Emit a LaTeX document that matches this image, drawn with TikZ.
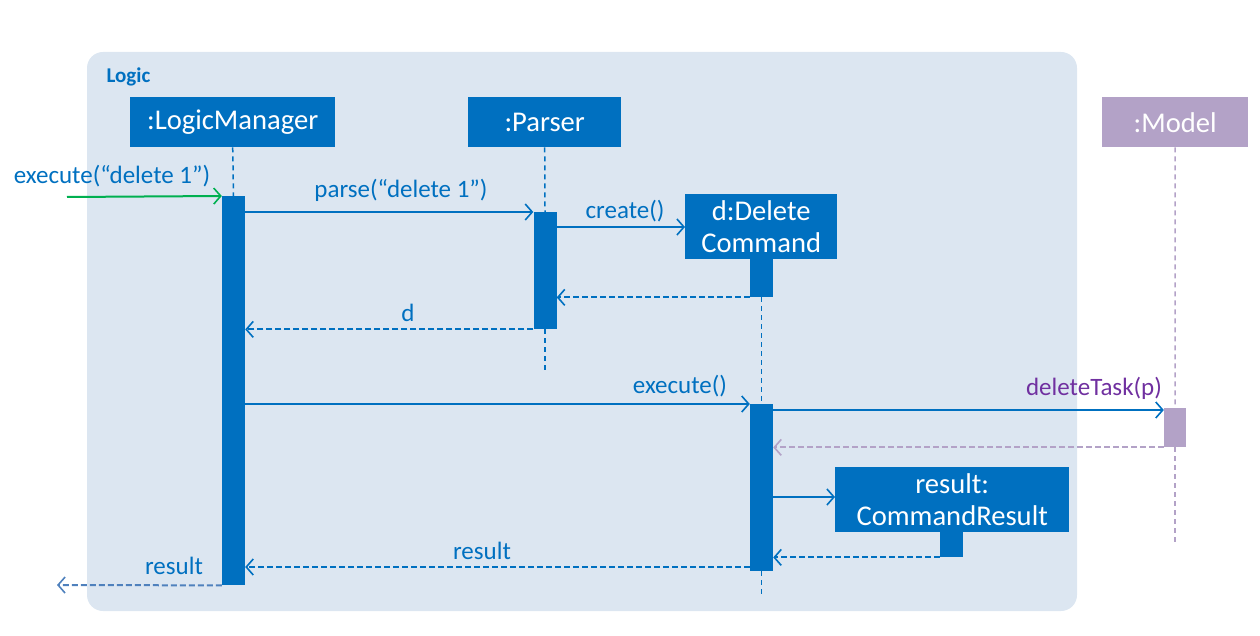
\documentclass[tikz,border=0pt]{standalone}
\usepackage{fontspec}
\setmainfont{Carlito}
\usepackage{tikz}
\usetikzlibrary{arrows.meta}
\definecolor{blu}{HTML}{0070C0}
\definecolor{framebg}{HTML}{DCE6F1}
\definecolor{mauve}{HTML}{B3A2C7}
\definecolor{purp}{HTML}{7030A0}
\definecolor{grn}{HTML}{00B050}
\definecolor{steel}{HTML}{4F81BD}
\tikzset{
  obj/.style={fill=blu, text=white, font=\fontsize{28.6}{32}\selectfont, inner sep=0pt, align=center, anchor=north west},
  act/.style={fill=blu, inner sep=0pt, minimum width=23pt, anchor=north},
  life/.style={draw=blu, line width=1.5pt, dash pattern=on 5pt off 4pt},
  msg/.style={draw=blu, line width=2pt, -{Straight Barb[length=7pt,width=16pt,line width=1.6pt]}},
  ret/.style={msg, dash pattern=on 6pt off 3pt},
  lab/.style={text=blu, font=\fontsize{25}{29}\selectfont}
}
\begin{document}
\begin{tikzpicture}[x=1pt,y=-1pt]
  \useasboundingbox (0,0) rectangle (1260,636);
  % frame
  \fill[framebg, rounded corners=16pt] (87,52) rectangle (1077,611);
  \node[anchor=west, text=blu, font=\fontsize{21}{24}\selectfont\bfseries] (logic) at (103,77) {Logic};

  % objects
  \node[obj, minimum width=205pt, minimum height=50pt] (lm) at (130,97) {:LogicManager};
  \node[obj, minimum width=153pt, minimum height=50pt] (pa) at (468,97) {:Parser};
  \node[obj, minimum width=146pt, minimum height=50pt, fill=mauve] (mo) at (1102,97) {:Model};
  \node[obj, minimum width=152pt, minimum height=65pt] (dc) at (685,194) {d:Delete\\Command};
  \node[obj, minimum width=234pt, minimum height=65pt] (cr) at (835,467) {result:\\CommandResult};

  % activations
  \node[act, minimum height=389pt] (lmA) at (233.5,196) {};
  \node[act, minimum height=117pt] (paA) at (545,212) {};
  \node[act, minimum height=38pt] (dcA0) at (761.5,259) {};
  \node[act, minimum height=167pt] (dcA) at (761.5,404) {};
  \node[act, minimum height=39pt, minimum width=22pt, fill=mauve] (moA) at (1175,408) {};
  \node[act, minimum height=25pt] (crA) at (951.5,532) {};

  % lifelines
  \coordinate (paEnd) at (545,370);
  \coordinate (dcEnd) at (761.5,595);
  \coordinate (moEnd) at (1175,543);
  \draw[life] (lm.south) -- (lmA.north);
  \draw[life] (pa.south) -- (paA.north);
  \draw[life] (paA.south) -- (paEnd);
  \draw[life] (dcA0.south) -- (dcA.north);
  \draw[life] (dcA.south) -- (dcEnd);
  \draw[life, draw=mauve] (mo.south) -- (moA.north);
  \draw[life, draw=mauve] (moA.south) -- (moEnd);

  % messages
  \coordinate (in) at (67,197);
  \coordinate (out) at (57,585);
  \coordinate (yCreate) at (0,227);
  \coordinate (yDel) at (0,410);
  \coordinate (yNew) at (0,497);
  \coordinate (yRes) at (0,567);
  \draw[msg, draw=grn] (in) -- (lmA.north west);
  \node[lab] (l1) at (112,176) {execute(“delete 1”)};
  \draw[msg] (lmA.east |- paA.north) -- (paA.north west);
  \node[lab] (l2) at (401,190) {parse(“delete 1”)};
  \draw[msg] (paA.east |- yCreate) -- (dc.west |- yCreate);
  \node[lab] (l3) at (625,211) {create()};
  \draw[ret] (dcA0.south west) -- (paA.east |- dcA0.south);
  \draw[ret] (paA.south west) -- (lmA.east |- paA.south);
  \node[lab] (l4) at (408,313) {d};
  \draw[msg] (lmA.east |- dcA.north) -- (dcA.north west);
  \node[lab] (l5) at (680,386) {execute()};
  \draw[msg] (dcA.east |- yDel) -- (moA.west |- yDel);
  \node[lab, text=purp] (l6) at (1094,388) {deleteTask(p)};
  \draw[ret, draw=mauve] (moA.south west) -- (dcA.east |- moA.south);
  \draw[msg] (dcA.east |- yNew) -- (cr.west |- yNew);
  \draw[ret] (crA.south west) -- (dcA.east |- crA.south);
  \draw[ret] (dcA.west |- yRes) -- (lmA.east |- yRes);
  \node[lab] (l7) at (482,551) {result};
  \draw[ret, draw=steel] (lmA.south west) -- (out);
  \node[lab] (l8) at (174,566) {result};
\end{tikzpicture}
\end{document}
